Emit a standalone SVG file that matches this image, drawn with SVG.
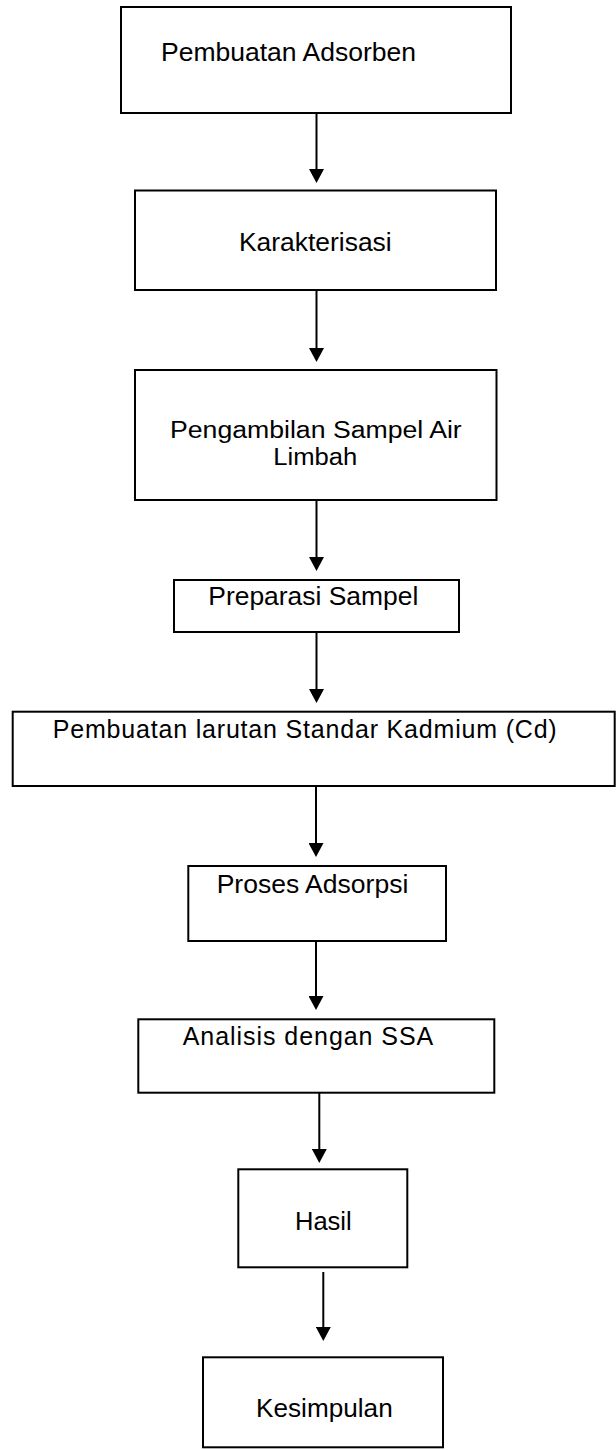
<svg xmlns="http://www.w3.org/2000/svg" width="616" height="1450" viewBox="0 0 616 1450">
<style>
.box{fill:#fff;stroke:#000;stroke-width:2}
.lbl{font-family:"Liberation Sans",Arial,sans-serif;font-size:25px;fill:#000}
.sm{font-size:23.5px}
.conn{stroke:#000;stroke-width:2;fill:none;marker-end:url(#ah)}
</style>
<defs>
<marker id="ah" viewBox="0 0 14 15" refX="6" refY="7.5" markerWidth="14" markerHeight="15" markerUnits="userSpaceOnUse" orient="auto">
<path d="M0,0 L14,7.5 L0,15 z" fill="#000"/>
</marker>
</defs>
<rect width="616" height="1450" fill="#fff"/>
<g id="connectors">
<line class="conn" x1="316.5" y1="113" x2="316.5" y2="175"/>
<line class="conn" x1="316.5" y1="290" x2="316.5" y2="354"/>
<line class="conn" x1="316.5" y1="500" x2="316.5" y2="563"/>
<line class="conn" x1="316.5" y1="632" x2="316.5" y2="695"/>
<line class="conn" x1="316" y1="786" x2="316" y2="849"/>
<line class="conn" x1="316" y1="941" x2="316" y2="1002"/>
<line class="conn" x1="319.3" y1="1093" x2="319.3" y2="1155"/>
<line class="conn" x1="323.3" y1="1272" x2="323.3" y2="1333"/>
</g>
<g id="n1">
<rect class="box" x="121" y="7" width="390" height="106"/>
<text class="lbl" x="161" y="61" textLength="255" lengthAdjust="spacingAndGlyphs">Pembuatan Adsorben</text>
</g>
<g id="n2">
<rect class="box" x="135" y="190.5" width="361" height="99.5"/>
<text class="lbl" x="239" y="250.7" textLength="152.7" lengthAdjust="spacingAndGlyphs">Karakterisasi</text>
</g>
<g id="n3">
<rect class="box" x="135" y="370" width="361.5" height="130"/>
<text class="lbl sm" x="170" y="437.5" textLength="291.7" lengthAdjust="spacingAndGlyphs">Pengambilan Sampel Air</text>
<text class="lbl sm" x="273.3" y="465" textLength="84" lengthAdjust="spacingAndGlyphs">Limbah</text>
</g>
<g id="n4">
<rect class="box" x="174" y="580" width="285" height="52"/>
<text class="lbl" x="208.3" y="605" textLength="210" lengthAdjust="spacingAndGlyphs">Preparasi Sampel</text>
</g>
<g id="n5">
<rect class="box" x="12.7" y="711.7" width="602" height="74.3"/>
<text class="lbl" x="52.7" y="738.3" textLength="504" lengthAdjust="spacing">Pembuatan larutan Standar Kadmium (Cd)</text>
</g>
<g id="n6">
<rect class="box" x="188.3" y="866" width="257.7" height="75"/>
<text class="lbl" x="216.7" y="893.3" textLength="191.6" lengthAdjust="spacingAndGlyphs">Proses Adsorpsi</text>
</g>
<g id="n7">
<rect class="box" x="138.3" y="1019.3" width="356" height="73.4"/>
<text class="lbl" x="182.7" y="1045" textLength="250.6" lengthAdjust="spacing">Analisis dengan SSA</text>
</g>
<g id="n8">
<rect class="box" x="238.3" y="1169.3" width="169" height="98"/>
<text class="lbl" x="295" y="1230" textLength="56.7" lengthAdjust="spacingAndGlyphs">Hasil</text>
</g>
<g id="n9">
<rect class="box" x="203" y="1357.3" width="240" height="90"/>
<text class="lbl" x="256" y="1417.3" textLength="136.7" lengthAdjust="spacingAndGlyphs">Kesimpulan</text>
</g>
</svg>
